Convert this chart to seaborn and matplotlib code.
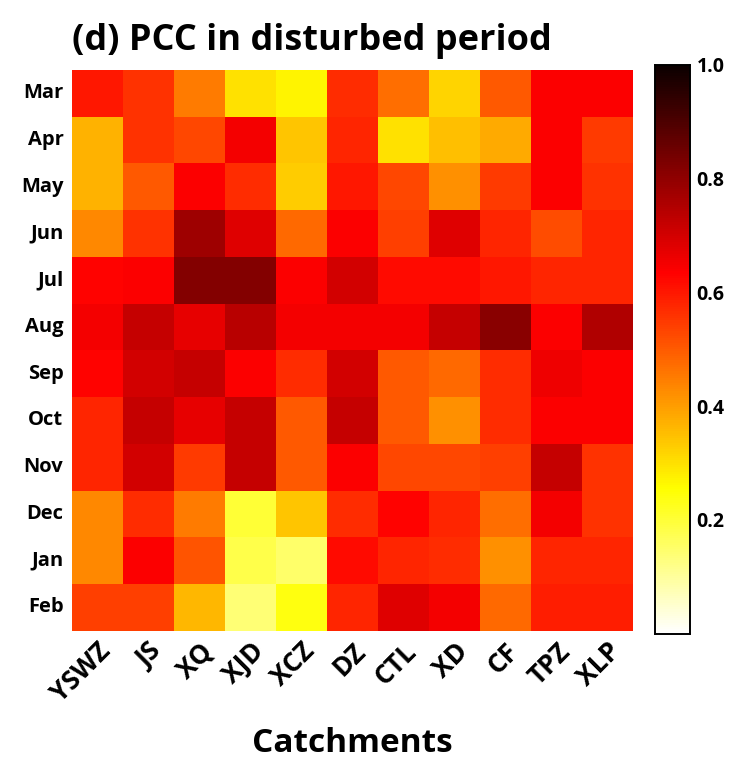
import numpy as np
import pandas as pd
import matplotlib
matplotlib.use("Agg")
import matplotlib.pyplot as plt
import seaborn as sns

months = ["Mar", "Apr", "May", "Jun", "Jul", "Aug", "Sep", "Oct", "Nov", "Dec", "Jan", "Feb"]
catchments = ["YSWZ", "JS", "XQ", "XJD", "XCZ", "DZ", "CTL", "XD", "CF", "TPZ", "XLP"]

# Pearson correlation coefficients, one row per month, one column per catchment
pcc_mar = [0.60, 0.56, 0.45, 0.30, 0.27, 0.57, 0.47, 0.32, 0.50, 0.64, 0.64]
pcc_apr = [0.37, 0.56, 0.53, 0.65, 0.34, 0.58, 0.30, 0.35, 0.38, 0.64, 0.55]
pcc_may = [0.37, 0.50, 0.64, 0.57, 0.33, 0.60, 0.53, 0.42, 0.55, 0.64, 0.56]
pcc_jun = [0.43, 0.56, 0.78, 0.68, 0.48, 0.64, 0.54, 0.68, 0.58, 0.52, 0.58]
pcc_jul = [0.63, 0.64, 0.82, 0.82, 0.64, 0.70, 0.62, 0.62, 0.60, 0.58, 0.58]
pcc_aug = [0.65, 0.72, 0.67, 0.74, 0.65, 0.65, 0.65, 0.72, 0.81, 0.64, 0.75]
pcc_sep = [0.63, 0.70, 0.72, 0.64, 0.57, 0.70, 0.50, 0.48, 0.57, 0.66, 0.64]
pcc_oct = [0.58, 0.72, 0.67, 0.72, 0.50, 0.72, 0.50, 0.42, 0.57, 0.64, 0.64]
pcc_nov = [0.58, 0.70, 0.55, 0.72, 0.50, 0.64, 0.53, 0.53, 0.54, 0.72, 0.56]
pcc_dec = [0.43, 0.57, 0.45, 0.20, 0.34, 0.57, 0.63, 0.58, 0.47, 0.65, 0.56]
pcc_jan = [0.43, 0.64, 0.51, 0.18, 0.15, 0.62, 0.58, 0.57, 0.42, 0.58, 0.58]
pcc_feb = [0.54, 0.54, 0.36, 0.14, 0.24, 0.58, 0.68, 0.65, 0.48, 0.59, 0.59]

cbar_ticks = [0.2, 0.4, 0.6, 0.8, 1.0]

data = pd.DataFrame(
    [pcc_mar, pcc_apr, pcc_may, pcc_jun, pcc_jul, pcc_aug,
     pcc_sep, pcc_oct, pcc_nov, pcc_dec, pcc_jan, pcc_feb],
    index=months, columns=catchments,
)

sns.set_theme(style="white", rc={"text.color": "black",
                                 "axes.labelcolor": "black",
                                 "xtick.color": "black",
                                 "ytick.color": "black"})
plt.rcParams["font.family"] = ["Open Sans", "DejaVu Sans"]

fig = plt.figure(figsize=(7.4, 7.6), dpi=100)
ax = fig.add_axes([0.097, 0.170, 0.758, 0.738])
cax = fig.add_axes([0.885, 0.166, 0.047, 0.749])

sns.heatmap(data, ax=ax, cbar_ax=cax, cmap="hot_r", vmin=0.0, vmax=1.0,
            square=False, linewidths=0,
            cbar_kws={"ticks": cbar_ticks})

ax.set_title("(d) PCC in disturbed period", fontsize=26, fontweight="bold",
             loc="left", x=0.0, y=1.036, pad=0, color="black")
ax.set_xlabel("Catchments", fontsize=24, fontweight="bold", color="black")
ax.xaxis.label.set_va("baseline")
ax.xaxis.set_label_coords(0.5, -0.216)
ax.set_ylabel("")
ax.set_yticklabels(months, rotation=0, fontsize=14.5, fontweight="bold")
ax.set_xticklabels(catchments, rotation=45, ha="right", rotation_mode="anchor",
                   fontsize=19, fontweight="bold")
ax.tick_params(axis="y", length=0, pad=6)
ax.tick_params(axis="x", length=0, pad=5)

cax.tick_params(labelsize=14, length=3, width=1, direction="in", color="black", pad=5)
for lbl in cax.get_yticklabels():
    lbl.set_fontweight("bold")
cax.yaxis.set_major_formatter(matplotlib.ticker.FormatStrFormatter("%.1f"))
for spine in cax.spines.values():
    spine.set_visible(True)
    spine.set_color("black")
    spine.set_linewidth(1.2)

fig.savefig("out.png", dpi=100, facecolor="white")
